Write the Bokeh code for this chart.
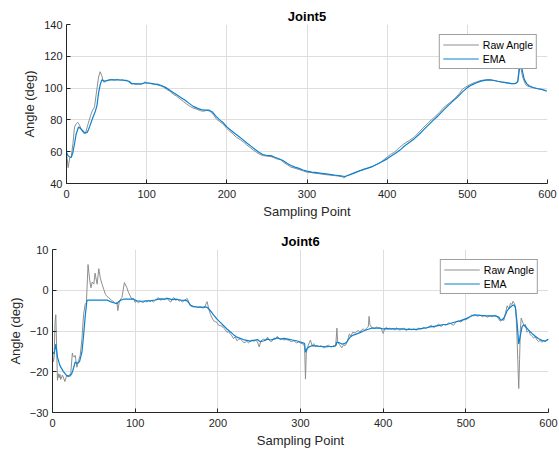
from bokeh.plotting import figure
from bokeh.models import Range1d, Legend, LegendItem, FixedTicker
from bokeh.embed import file_html
from bokeh.resources import INLINE

# ---------------- data ----------------
j5_raw_x = [0, 2, 4, 6, 8, 10, 12, 14, 16, 19, 22, 24, 27, 30, 32, 35, 37, 40, 42, 44, 46, 48, 50, 53, 56, 60, 63, 67, 70, 73, 75, 78, 81, 84, 87, 90, 93, 96, 98, 100, 104, 108, 112, 117, 121, 125, 129, 133, 137, 142, 146, 150, 154, 158, 162, 167, 171, 175, 179, 183, 187, 191, 196, 200, 204, 208, 212, 217, 221, 225, 229, 233, 237, 241, 246, 250, 254, 258, 262, 267, 271, 276, 280, 285, 290, 295, 300, 305, 309, 315, 321, 328, 334, 340, 344, 346, 350, 355, 361, 367, 373, 380, 386, 392, 396, 400, 404, 409, 415, 421, 428, 434, 440, 446, 452, 459, 465, 471, 478, 484, 490, 494, 500, 505, 511, 517, 523, 528, 533, 538, 544, 550, 555, 559, 562, 563, 565, 567, 569, 572, 574, 578, 584, 590, 595, 599]
j5_raw_y = [59.6, 50, 56, 57, 65, 75.5, 77.5, 78.5, 77, 73.4, 71.3, 72.3, 77.6, 82.6, 85.5, 88.2, 96, 107, 110.3, 107.8, 104, 103.8, 104.6, 105, 105.5, 105, 105.6, 105, 105.3, 104.6, 105, 103.8, 102.5, 102.8, 102.3, 102.6, 102.4, 103, 104, 103.2, 102.9, 102.5, 102.2, 101.5, 100.6, 99.2, 98, 96.2, 95, 93, 91.5, 90, 88.5, 87.4, 86.8, 85.8, 85.4, 86.1, 85.4, 83.5, 80.5, 79, 77, 74.6, 72.7, 71, 69, 67.5, 66, 64.2, 62.7, 61, 59.6, 58.3, 57.5, 57.2, 57, 56.4, 55.5, 54.9, 53.2, 51.6, 50.3, 49.6, 48.8, 48, 47.1, 46.9, 46.5, 46.2, 45.7, 45.3, 45, 44.6, 44.2, 43.5, 45, 46, 47.2, 48.2, 49.4, 50.3, 51.8, 53.4, 55, 56.6, 58.2, 59.7, 62.5, 65, 67.2, 69.2, 72.5, 75.5, 78.6, 81.7, 84.6, 88, 90.8, 93.3, 96.6, 99.4, 101.3, 102.7, 103.8, 104.8, 105.2, 105.3, 104.9, 104.2, 103.7, 103.2, 102.8, 102.7, 103.5, 105, 116, 112, 107, 103, 101.5, 100.8, 100, 99.5, 98.9, 98.4]

j5_ema_x = [0, 2, 4, 6, 8, 10, 12, 15, 17, 19, 23, 26, 29, 33, 36, 38, 40, 42, 44, 47, 50, 54, 60, 67, 73, 78, 81, 86, 92, 98, 103, 109, 114, 119, 124, 128, 133, 138, 143, 148, 153, 158, 163, 168, 173, 178, 182, 186, 191, 196, 200, 205, 210, 215, 220, 225, 230, 235, 240, 245, 250, 255, 260, 265, 270, 275, 280, 285, 290, 295, 300, 306, 312, 318, 324, 330, 336, 342, 347, 352, 358, 364, 370, 376, 382, 388, 394, 400, 405, 410, 416, 422, 428, 434, 440, 446, 452, 458, 464, 470, 476, 482, 488, 494, 500, 505, 511, 517, 523, 528, 533, 538, 544, 550, 555, 560, 563, 565, 567, 569, 571, 574, 577, 582, 588, 594, 599]
j5_ema_y = [59.6, 57.5, 56.6, 56.4, 59.6, 65, 71, 75.5, 74.8, 73.8, 71.7, 72.3, 75.9, 81.7, 85.5, 89, 97, 102, 105.2, 104.4, 104.7, 105.2, 105.2, 105.1, 104.9, 104.3, 103, 102.6, 102.6, 103.3, 103.2, 102.7, 102.3, 101.5, 100.3, 99, 97.3, 95.6, 94, 92.3, 90.4, 88.5, 87.4, 86.5, 86.1, 86.1, 85, 82.5, 80, 78, 75.6, 73.5, 71.5, 69.6, 67.6, 65.5, 63.5, 61.5, 59.6, 58.2, 57.6, 57.5, 56.5, 55.6, 54.5, 52.8, 51.3, 50.3, 49.5, 48.5, 47.8, 47.2, 46.8, 46.4, 46, 45.6, 45.2, 44.8, 44.4, 45.2, 46.4, 47.6, 48.7, 49.7, 50.8, 52.3, 53.8, 55.5, 57.3, 58.8, 61, 63.7, 66, 68.2, 71, 74, 77, 80, 82.8, 86, 89, 91.8, 94.5, 97.6, 100.3, 101.9, 103.2, 104.4, 105, 105.2, 104.8, 104.3, 103.7, 103.3, 102.8, 102.9, 104, 112, 115, 110, 105.5, 102.8, 101.5, 100.4, 99.6, 99, 98]

j6_raw_x = [0, 1, 2, 3, 4, 5, 6, 7, 8, 9, 10, 12, 13, 15, 17, 19, 21, 22, 24, 25, 26, 27.5, 29.5, 31.5, 33.5, 35.6, 37.6, 39.5, 41, 43, 45, 46.5, 48, 50, 51.5, 53, 54, 56, 58, 60, 62, 64, 66, 68, 71, 74, 76, 78, 79, 81, 84, 87, 90, 92, 94, 96, 98, 100, 102, 104, 106, 108, 110, 112, 114, 116, 118, 120, 122, 125, 128, 131, 133, 135, 137, 139, 141, 143, 145, 147, 149, 151, 153, 155, 157, 160, 163, 165, 167, 170, 173, 176, 179, 182, 184, 186, 187, 189, 191, 193, 195, 197, 199, 201, 203, 205, 207, 209, 211, 213, 215, 217, 219, 221, 223, 225, 227, 229, 231, 233, 235, 237, 239, 241, 243.6, 246, 248, 250, 252, 254, 256, 258, 260, 262, 264, 266, 268, 270, 272, 274, 276, 278, 280, 283, 286, 289, 292, 295, 298, 300, 302, 304, 305, 306, 307, 308, 310, 312, 314, 316, 318, 320, 322, 325, 328, 331, 334, 337, 340, 342, 343, 344, 345, 347, 350, 352, 354, 356, 358, 359, 361, 363, 366, 368, 370, 372, 374, 376, 378, 380, 382, 383, 384, 386, 388, 390, 392, 394, 396, 398, 400, 402, 404, 406, 408, 410, 412, 414, 416, 418, 420, 422, 425, 428, 431, 434, 437, 440, 443, 446, 449, 452, 455, 458, 461, 464, 467, 470, 473, 476, 479, 482, 485, 488, 491, 494, 497, 500, 503, 505, 507, 509, 511, 514, 517, 520, 523, 526, 529, 532, 535, 538, 540, 542, 544, 546, 548, 550, 552, 554, 556, 557, 559, 560, 561, 562, 563, 564, 565, 566, 567, 569, 571, 572, 574, 576, 578, 580, 582, 584, 586, 588, 590, 592, 594, 596, 598, 600]
j6_raw_y = [-15.2, -17.6, -16.5, -8, -6, -14, -22.1, -20.5, -21.5, -20.6, -21.9, -20.8, -21.3, -22.4, -21, -21.3, -20.6, -20.7, -15.4, -16.2, -16.4, -16, -18.9, -17.2, -16, -12, -5.9, -3.5, -3, 6.3, 2.5, 0.6, 2, 1.5, 4.2, 2.5, 1.5, 5.3, 2.8, 1.5, 0.2, -1, -1.5, -1.8, -2.4, -2.8, -3.2, -3, -5, -2.6, -1.8, 1.9, 0.6, -0.6, -1.4, -2.2, -2, -3, -2.6, -3.1, -2.7, -2.9, -3, -2.6, -2.9, -2.4, -2.8, -2.5, -2.9, -2.3, -1.8, -2.5, -2.1, -2.4, -1.9, -2, -2.6, -2.9, -2.1, -1.8, -2.5, -2.2, -2.7, -2.4, -2.9, -2.4, -2, -3, -3.8, -4.1, -4, -4.3, -4, -4.4, -4.2, -3.2, -2.8, -4.5, -5.9, -6.8, -7.5, -7.7, -7.9, -8.6, -8.7, -8.8, -9.3, -9.7, -10.3, -10.2, -10.7, -11.2, -11.9, -11.4, -12.4, -12.1, -11.9, -12.3, -12.8, -12.8, -12.5, -12.9, -12.6, -12.2, -12.5, -12.3, -12.7, -13.9, -12.5, -12.1, -12, -12.3, -11.5, -12.2, -12.6, -12.4, -11.7, -11.9, -11.3, -11.8, -12, -11.9, -12.2, -12.1, -12.3, -12.6, -12.4, -12.9, -12.7, -13, -13.1, -13.4, -13.9, -21.8, -15.5, -14.3, -13.2, -12.2, -13.6, -13.1, -13.8, -13.5, -13.9, -13.6, -14.1, -13.7, -13.5, -14, -13.6, -13.8, -12.5, -9.3, -12.6, -13.3, -14.1, -13.4, -13.6, -12.9, -11.6, -10.7, -11.3, -10.3, -10.5, -10.1, -9.9, -10.3, -9.7, -9.5, -9.9, -9.3, -8.9, -6.4, -8.5, -9.1, -9.3, -9.4, -9, -9.3, -9.2, -9.5, -10.6, -9.4, -9.1, -9.5, -9.3, -9.6, -9.3, -9.8, -9.2, -9.5, -9.8, -9.6, -9.3, -9.9, -9.4, -9.7, -9.5, -9.8, -9.3, -9.5, -9.1, -9.4, -9, -8.6, -9.2, -8.8, -8.3, -8.9, -8.4, -8.6, -8, -8.2, -8.6, -7.8, -7.5, -7.8, -7.3, -7.2, -6.9, -6.5, -6.1, -6.3, -6, -6.4, -6.1, -6.5, -6.2, -6.6, -6.3, -6.5, -6.1, -6.4, -7.2, -7.6, -7.1, -7.4, -5.5, -3.8, -4.6, -3.2, -3.5, -2.7, -3.3, -4.2, -7, -12, -18, -24.1, -17, -9.5, -6.8, -8, -8.8, -8.4, -10.3, -9.8, -10.9, -11.3, -11.7, -11.4, -12.2, -12.6, -12.3, -12.8, -12.4, -12.6, -12.3, -12.1]

j6_ema_x = [0, 2, 4, 6, 9, 13, 17, 21, 23, 24.6, 27.5, 30, 32.7, 35.6, 37.6, 39.6, 41.6, 43, 50, 60, 66, 70, 73, 76, 78, 80, 83, 86, 92, 98, 102, 108, 114, 118, 124, 130, 136, 139, 145, 150, 155, 160, 163, 165, 167, 171, 175, 180, 185, 187, 189, 191, 195, 199, 203, 207, 211, 215, 219, 223, 227, 231, 235, 239, 243, 248, 251, 256, 260, 264, 268, 272, 276, 280, 285, 290, 295, 300, 303, 305, 306, 308, 311, 315, 320, 325, 330, 335, 340, 343, 344, 347, 350, 353, 356, 360, 364, 368, 372, 376, 380, 383, 386, 390, 396, 400, 405, 410, 416, 422, 428, 434, 440, 446, 452, 457, 463, 468, 473, 477, 482, 487, 493, 497, 501, 505, 509, 515, 520, 525, 530, 535, 540, 542, 544, 546, 548, 550, 553, 556, 558, 560, 562, 564, 566, 568, 570, 572, 576, 580, 584, 588, 592, 596, 598, 600]
j6_ema_y = [-15.2, -15.6, -13.2, -16.4, -18.5, -19.9, -20.9, -21.1, -20.6, -19.7, -17.6, -18, -17.5, -15.2, -11.1, -6.3, -2.6, -2.4, -2.4, -2.4, -2.4, -2.8, -3, -3.2, -3.3, -2.8, -2.4, -2.2, -2.2, -2.2, -2.6, -2.7, -2.6, -2.6, -2.4, -2.1, -2.2, -2, -2.3, -2.2, -2.4, -2.5, -2.6, -3.1, -3.7, -4, -4.1, -4.2, -4.1, -4.2, -4.6, -5, -6.1, -7.1, -7.9, -8.7, -9.5, -10.2, -10.9, -11.5, -11.8, -12.1, -12.3, -12.5, -12.3, -12.1, -12.6, -12.4, -12, -12.2, -12, -11.7, -12, -11.8, -12, -12.2, -12.4, -12.7, -12.9, -13.1, -15.2, -14.3, -13.8, -13.6, -13.7, -13.8, -13.9, -13.8, -13.8, -13.5, -12.7, -12.9, -13.2, -13.1, -12.7, -11.5, -11, -10.7, -10.4, -10, -9.7, -9.5, -9.3, -9.3, -9.3, -9.5, -9.4, -9.5, -9.5, -9.5, -9.6, -9.6, -9.6, -9.4, -9.2, -9, -8.8, -8.6, -8.4, -8.4, -8.1, -7.8, -7.5, -7.2, -6.9, -6.5, -6.1, -6.1, -6.2, -6.3, -6.3, -6.3, -6.6, -7.3, -7.3, -6.8, -6, -5, -4.3, -3.8, -3.6, -4.2, -8, -13.2, -11, -9, -8.5, -8.9, -9.8, -10.6, -11.3, -11.9, -12.3, -12.5, -12.2, -12]

x_ticks = [0, 100, 200, 300, 400, 500, 600]
j5_y_ticks = [40, 60, 80, 100, 120, 140]
j6_y_ticks = [-30, -20, -10, 0, 10]

RAW_COLOR = "#8e8e8e"
EMA_COLOR = "#0a80d0"
AX = "#262626"
FONT = "Liberation Sans"


def make_fig(title, rx, ry, ex, ey, yr, yticks, fw, fh, left, top, bottom, right):
    p = figure(frame_width=fw, frame_height=fh, min_border_left=left,
               min_border_top=top, min_border_bottom=bottom, min_border_right=right,
               x_range=Range1d(0, 600), y_range=Range1d(*yr),
               output_backend="svg", toolbar_location=None)
    p.title.text = title
    p.title.align = "center"
    p.title.text_font = FONT
    p.title.text_font_size = "13px"
    p.title.text_font_style = "bold"
    p.title.text_color = "#000000"
    p.title.standoff = 2
    p.outline_line_color = None
    r1 = p.line(rx, ry, line_color=RAW_COLOR, line_width=1)
    r2 = p.line(ex, ey, line_color=EMA_COLOR, line_width=1.2)
    p.xaxis.ticker = FixedTicker(ticks=x_ticks)
    p.yaxis.ticker = FixedTicker(ticks=yticks)
    for ax in (p.xaxis[0], p.yaxis[0]):
        ax.axis_line_color = AX
        ax.major_tick_line_color = AX
        ax.major_tick_in = 4
        ax.major_tick_out = 0
        ax.minor_tick_line_color = None
        ax.major_label_text_font = FONT
        ax.major_label_text_font_size = "11px"
        ax.major_label_text_color = AX
        ax.axis_label_text_font = FONT
        ax.axis_label_text_font_size = "13px"
        ax.axis_label_text_font_style = "normal"
        ax.axis_label_text_color = AX
    p.xaxis.axis_label = "Sampling Point"
    p.yaxis.axis_label = "Angle (deg)"
    p.xaxis.major_label_standoff = 6
    p.xaxis.axis_label_standoff = 3
    p.yaxis.major_label_standoff = 4
    p.yaxis.axis_label_standoff = 4
    p.grid.grid_line_color = "#dedede"
    p.grid.grid_line_width = 1
    legend = Legend(items=[LegendItem(label="Raw Angle", renderers=[r1]),
                           LegendItem(label="EMA", renderers=[r2])],
                    location="top_right", margin=10, padding=3, spacing=1,
                    label_height=13, glyph_height=13, glyph_width=36,
                    label_standoff=4, label_text_font=FONT,
                    label_text_font_size="10.5px", label_text_color="#000000",
                    border_line_color="#404040", border_line_width=1,
                    background_fill_color="white", background_fill_alpha=1)
    p.add_layout(legend)
    return p


p1 = make_fig("Joint5", j5_raw_x, j5_raw_y, j5_ema_x, j5_ema_y, (40, 140),
              j5_y_ticks, 481, 159, 66, 24, 40, 12)
p2 = make_fig("Joint6", j6_raw_x, j6_raw_y, j6_ema_x, j6_ema_y, (-30, 10),
              j6_y_ticks, 496, 163, 52, 26, 36, 11)

open("out.html", "w").write(file_html([p1, p2], INLINE))
